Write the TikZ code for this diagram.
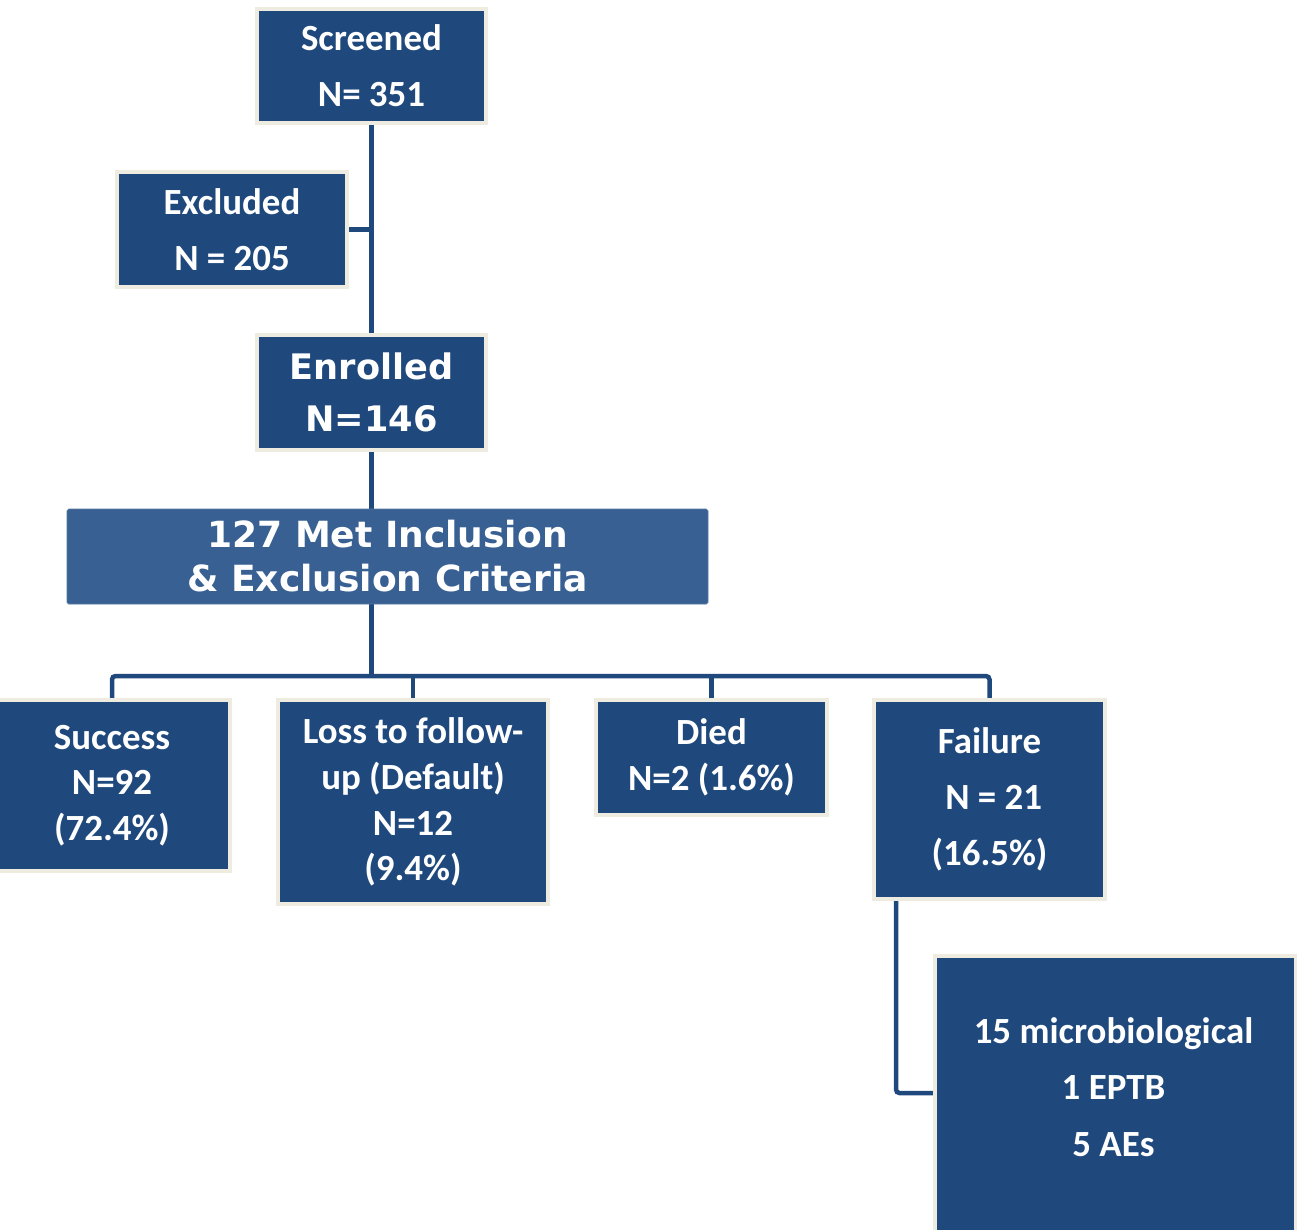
\documentclass[tikz,border=0pt]{standalone}
\usepackage{fontspec}
\setmainfont{Carlito}
\newfontfamily\heavyfont{DejaVu Sans}
\usetikzlibrary{backgrounds}
\definecolor{trialblue}{RGB}{31,73,125}
\definecolor{critblue}{RGB}{56,96,146}
\definecolor{trialcream}{RGB}{238,236,225}
\tikzstyle{box} = [draw=trialcream, line width=0.08cm, fill=trialblue, text=white, inner sep=0pt, align=center, font=\fontsize{21}{32}\selectfont\bfseries]
\tikzstyle{tightbox} = [box, font=\fontsize{21}{26}\selectfont\bfseries]
\tikzstyle{heavybox} = [box, font=\fontsize{20}{29.6}\selectfont\heavyfont\bfseries]
\tikzstyle{critbox} = [draw=critblue!85!white, line width=0.4pt, rounded corners=1pt, fill=critblue, text=white, inner sep=0pt, align=center, font=\fontsize{20.5}{25}\selectfont\heavyfont\bfseries]
\tikzstyle{link} = [line width=0.09cm, color=trialblue]

\begin{document}
\begin{tikzpicture}
\useasboundingbox (0,0) rectangle (25.94,-24.58);
\clip (0,0) rectangle (25.94,-24.58);

\node[box, minimum width=4.58cm, minimum height=2.28cm] (screened) at (7.43,-1.32) {Screened\\N= 351};
\node[box, minimum width=4.6cm, minimum height=2.3cm] (excluded) at (4.64,-4.59) {Excluded\\N = 205};
\node[heavybox, minimum width=4.58cm, minimum height=2.3cm] (enrolled) at (7.43,-7.85) {Enrolled\\N=146};
\node[critbox, minimum width=12.82cm, minimum height=1.9cm] (criteria) at (7.75,-11.13) {127 Met Inclusion\\\& Exclusion Criteria};

\node[tightbox, minimum width=4.72cm, minimum height=3.42cm] (success) at (2.24,-15.71) {Success\\N=92\\(72.4\%)};
\node[tightbox, minimum width=5.4cm, minimum height=4.08cm] (loss) at (8.26,-16.04) {Loss to follow-\\up (Default)\\N=12\\(9.4\%)};
\node[tightbox, minimum width=4.62cm, minimum height=2.3cm] (died) at (14.23,-15.15) {Died\\N=2 (1.6\%)};
\node[box, minimum width=4.62cm, minimum height=3.98cm] (failure) at (19.79,-15.99) {Failure\\\ N = 21\\(16.5\%)};

\node[box, minimum width=7.22cm, minimum height=7cm, anchor=north west] (detail) at (18.66,-19.08) {};
\node[box, draw=none] (detailtxt) at (22.27,-21.74) {15 microbiological\\1 EPTB\\5 AEs};

\coordinate (bus) at (7.43,-13.52);
\coordinate (tap) at ([xshift=0.48cm]failure.south west);
\coordinate (entry) at ([yshift=-2.78cm]detail.north west);

\begin{scope}[on background layer]
\draw[link] (screened.south) -- (enrolled.north);
\draw[link] (excluded.east) -- (excluded.east -| screened.south);
\draw[link] (enrolled.south) -- (enrolled.south |- criteria.north);
\draw[link] (criteria.south -| enrolled.south) -- (bus);
\draw[link, rounded corners=2pt] (success.north) |- (bus) -| (failure.north);
\draw[link] (loss.north) -- (loss.north |- bus);
\draw[link] (died.north) -- (died.north |- bus);
\draw[link, rounded corners=2pt] (tap) |- (entry);
\end{scope}
\end{tikzpicture}
\end{document}
